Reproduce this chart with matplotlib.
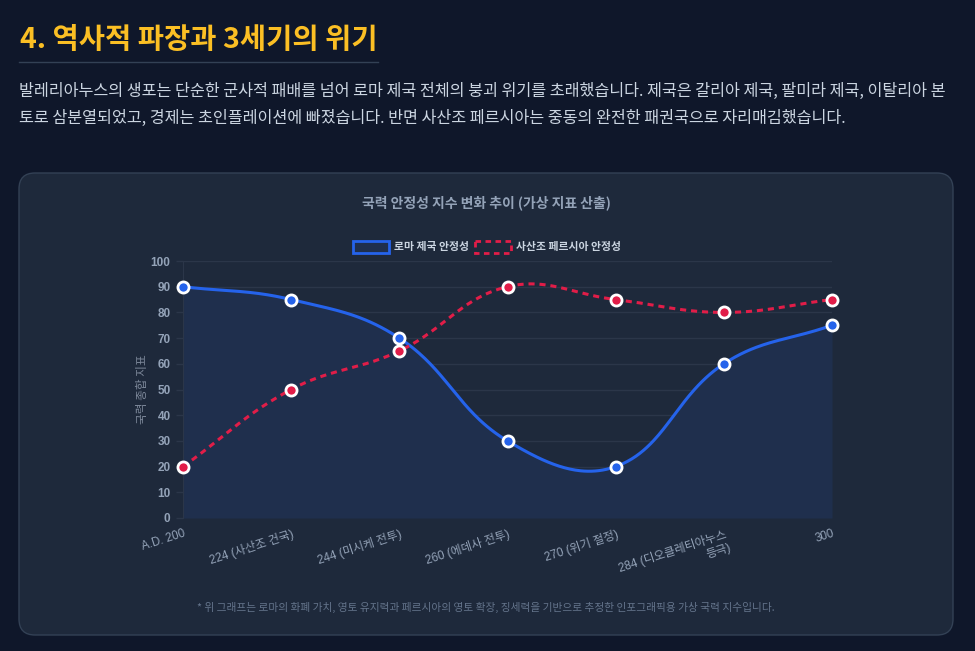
import numpy as np
import matplotlib
matplotlib.use('Agg')
import matplotlib.pyplot as plt
from matplotlib.patches import FancyBboxPatch, Rectangle

plt.rcParams['font.family'] = ['Noto Sans CJK KR', 'DejaVu Sans']

# data
labels = ['A.D. 200', '224 (사산조 건국)', '244 (미시케 전투)', '260 (에데사 전투)',
          '270 (위기 절정)', '284 (디오클레티아누스\n등극)', '300']
rome = [90, 85, 70, 30, 20, 60, 75]
persia = [20, 50, 65, 90, 85, 80, 85]

W, H = 975, 651
BG = '#0f172a'
CARD = '#1e293b'
GRID = '#2b3649'
BLUE = '#2563eb'
RED = '#e11d48'
TICK = '#94a3b8'

# plot area in pixels
L, R, T, B = 183, 832, 261, 518
X_PX = (R - L) / (len(labels) - 1)
Y_PX = (B - T) / 100.0


def smooth(ys, tension=0.4, n=60):
    # chart.js style bezier through the points (pixel space)
    px = np.arange(len(ys)) * X_PX
    py = np.asarray(ys, float) * Y_PX
    m = len(px)
    cprev = np.zeros((m, 2))
    cnext = np.zeros((m, 2))
    for i in range(m):
        p = max(i - 1, 0)
        q = min(i + 1, m - 1)
        d01 = np.hypot(px[i] - px[p], py[i] - py[p])
        d12 = np.hypot(px[q] - px[i], py[q] - py[i])
        tot = d01 + d12
        s01 = d01 / tot if tot else 0
        s12 = d12 / tot if tot else 0
        dx, dy = px[q] - px[p], py[q] - py[p]
        cprev[i] = (px[i] - tension * s01 * dx, py[i] - tension * s01 * dy)
        cnext[i] = (px[i] + tension * s12 * dx, py[i] + tension * s12 * dy)
    for c in (cprev, cnext):
        c[:, 0] = np.clip(c[:, 0], 0, px[-1])
        c[:, 1] = np.clip(c[:, 1], 0, 100 * Y_PX)
    t = np.linspace(0, 1, n)[:, None]
    segs = []
    for i in range(m - 1):
        p0 = np.array([px[i], py[i]])
        p3 = np.array([px[i + 1], py[i + 1]])
        b = ((1 - t) ** 3) * p0 + 3 * ((1 - t) ** 2) * t * cnext[i] \
            + 3 * (1 - t) * t ** 2 * cprev[i + 1] + t ** 3 * p3
        segs.append(b if i == 0 else b[1:])
    pts = np.vstack(segs)
    return pts[:, 0] / X_PX, pts[:, 1] / Y_PX


fig = plt.figure(figsize=(W / 100, H / 100), dpi=100, facecolor=BG)

# background layer in pixel coords
bg = fig.add_axes([0, 0, 1, 1])
bg.set_xlim(0, W)
bg.set_ylim(H, 0)
bg.axis('off')
bg.set_facecolor(BG)

bg.text(20, 40, '4. 역사적 파장과 3세기의 위기', color='#fbbf24', fontsize=20.5,
        fontweight='bold', va='center', ha='left')
bg.plot([19, 378], [62, 62], color='#334155', lw=1)
bg.text(19, 91, '발레리아누스의 생포는 단순한 군사적 패배를 넘어 로마 제국 전체의 붕괴 위기를 초래했습니다. '
        '제국은 갈리아 제국, 팔미라 제국, 이탈리아 본',
        color='#cbd5e1', fontsize=11.7, fontweight='medium', va='center', ha='left')
bg.text(19, 118, '토로 삼분열되었고, 경제는 초인플레이션에 빠졌습니다. 반면 사산조 페르시아는 '
        '중동의 완전한 패권국으로 자리매김했습니다.',
        color='#cbd5e1', fontsize=11.7, fontweight='medium', va='center', ha='left')

card = FancyBboxPatch((19, 173), 934, 462, boxstyle='round,pad=0,rounding_size=16',
                      facecolor=CARD, edgecolor='#334155', lw=1)
bg.add_patch(card)

bg.text(486, 203, '국력 안정성 지수 변화 추이 (가상 지표 산출)', color=TICK, fontsize=10,
        fontweight='bold', ha='center', va='center')

# legend
bg.add_patch(Rectangle((353, 241), 36, 12, facecolor='#1f2f4d', edgecolor=BLUE, lw=2))
bg.text(394, 247, '로마 제국 안정성', color='#cbd5e1', fontsize=7.8, fontweight='bold',
        ha='left', va='center')
bg.add_patch(Rectangle((475, 241), 36, 12, facecolor='none', edgecolor=RED, lw=2,
                       linestyle=(0, (2, 1.6))))
bg.text(516, 247, '사산조 페르시아 안정성', color='#cbd5e1', fontsize=7.8, fontweight='bold',
        ha='left', va='center')

bg.text(486, 607, '* 위 그래프는 로마의 화폐 가치, 영토 유지력과 페르시아의 영토 확장, 징세력을 기반으로 '
        '추정한 인포그래픽용 가상 국력 지수입니다.',
        color='#64748b', fontsize=7.7, ha='center', va='center')

# main chart
ax = fig.add_axes([L / W, 1 - B / H, (R - L) / W, (B - T) / H])
ax.set_facecolor('none')
x = np.arange(len(labels))

rx, ry = smooth(rome)
ax.fill_between(rx, 0, ry, color='#1f2f4d', lw=0, zorder=1)
ax.plot(rx, ry, color=BLUE, lw=2.2, zorder=3, solid_capstyle='round')
ax.plot(x, rome, 'o', ms=8, mfc=BLUE, mec='white', mew=2, zorder=5, clip_on=False)

sx, sy = smooth(persia)
ax.plot(sx, sy, color=RED, lw=2.2, linestyle=(0, (2, 1.6)), zorder=3)
ax.plot(x, persia, 'o', ms=8, mfc=RED, mec='white', mew=2, zorder=5, clip_on=False)

ax.set_xlim(0, len(labels) - 1)
ax.set_ylim(0, 100)
ax.set_yticks(range(0, 101, 10))
ax.grid(axis='y', color=GRID, lw=1, zorder=0)
ax.set_axisbelow(True)
for s in ax.spines.values():
    s.set_visible(False)
ax.spines['left'].set_visible(True)
ax.spines['left'].set_color(GRID)

ax.tick_params(axis='y', colors=GRID, length=5, width=1, pad=4)
ax.tick_params(axis='x', length=0, pad=7)
for lab in ax.get_yticklabels():
    lab.set_color(TICK)
    lab.set_fontweight('bold')
    lab.set_fontsize(8.5)
    lab.set_family(['Liberation Sans', 'Noto Sans CJK KR'])

ax.set_xticks(x)
ax.set_xticklabels(labels, rotation=18, ha='right', va='top', rotation_mode='anchor',
                   multialignment='right', color=TICK, fontsize=8.4,
                   family=['Liberation Sans', 'Noto Sans CJK KR'])

ax.set_ylabel('국력 종합 지표', color='#7c8799', fontsize=8.4)
ax.yaxis.set_label_coords(-0.052, 0.5)

fig.savefig('out.png', dpi=100, facecolor=BG)
